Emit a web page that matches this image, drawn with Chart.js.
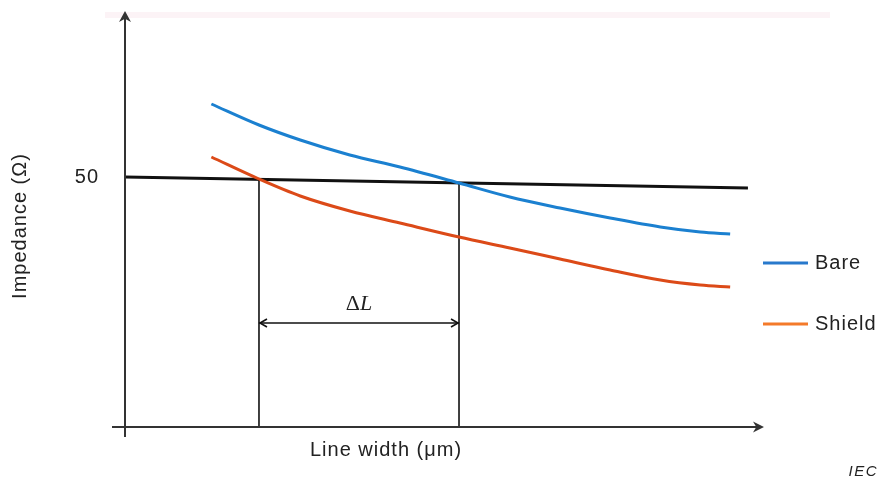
<!DOCTYPE html>
<html>
<head>
<meta charset="utf-8">
<script src="https://cdn.jsdelivr.net/npm/chart.js@4/dist/chart.umd.min.js"></script>
<style>
  html, body { margin: 0; padding: 0; background: #fff; }
  #wrap { width: 880px; height: 486px; position: relative; }
</style>
</head>
<body>
<div id="wrap"><canvas id="impedanceChart"></canvas></div>
<script>
/* globals Chart:false */

// line width (arbitrary units) and impedance (ohm)
const widths = [13.6, 21.1, 27.6, 35.4, 43.3, 52.6, 60.6, 68.5, 76.4, 84.3, 90.6, 95.3]
const bare = [64.6, 60.4, 57.4, 54.4, 52.0, 48.8, 46.0, 43.8, 41.8, 40.0, 39.0, 38.6]
const shield = [54.0, 49.6, 46.2, 43.2, 40.8, 38.0, 35.8, 33.6, 31.4, 29.4, 28.4, 28.0]

// 50 ohm target line
const targetX = [0, 98.1]
const targetZ = [50, 47.8]

// where each curve meets the target, and the height of the ΔL marker
const crossX = [21.1, 52.6]
const crossZ = [49.5, 48.8]
const deltaLevel = 20.8

const yTicks = [50]
const seriesNames = ['Bare', 'Shield']

;(() => {
  'use strict'

  const FONT = '"Liberation Sans", Arial, sans-serif'
  const toPoints = (xs, ys) => xs.map((x, i) => ({ x, y: ys[i] }))

  const arrowHead = (ctx, x, y, dir, len, half) => {
    // filled arrow with a small notch, pointing along dir (radians)
    ctx.save()
    ctx.translate(x, y)
    ctx.rotate(dir)
    ctx.beginPath()
    ctx.moveTo(0, 0)
    ctx.lineTo(-len, -half)
    ctx.lineTo(-len * 0.7, 0)
    ctx.lineTo(-len, half)
    ctx.closePath()
    ctx.fill()
    ctx.restore()
  }

  const chevron = (ctx, x, y, dir) => {
    ctx.save()
    ctx.translate(x, y)
    ctx.rotate(dir)
    ctx.beginPath()
    ctx.moveTo(-7, -4)
    ctx.lineTo(0, 0)
    ctx.lineTo(-7, 4)
    ctx.stroke()
    ctx.restore()
  }

  const decorations = {
    id: 'decorations',
    beforeDraw (chart) {
      const { ctx } = chart
      ctx.letterSpacing = '1px'
      ctx.save()
      ctx.fillStyle = '#fcf3f6'
      ctx.fillRect(105, 12, 725, 6)
      ctx.restore()
    },
    afterDraw (chart) {
      const { ctx, scales: { x, y } } = chart
      const x0 = x.getPixelForValue(0)
      const y0 = y.getPixelForValue(0)
      ctx.save()

      // axes with arrow heads
      ctx.strokeStyle = '#333'
      ctx.fillStyle = '#333'
      ctx.lineWidth = 2
      ctx.beginPath()
      ctx.moveTo(x0, y0 + 10)
      ctx.lineTo(x0, 18)
      ctx.moveTo(112, y0)
      ctx.lineTo(757, y0)
      ctx.stroke()
      arrowHead(ctx, x0, 11, -Math.PI / 2, 11, 6)
      arrowHead(ctx, 764, y0, 0, 11, 5.5)

      // ΔL double arrow heads
      const yd = y.getPixelForValue(deltaLevel)
      ctx.strokeStyle = '#111'
      ctx.lineWidth = 1.6
      chevron(ctx, x.getPixelForValue(crossX[0]) + 1, yd, Math.PI)
      chevron(ctx, x.getPixelForValue(crossX[1]) - 1, yd, 0)

      // ΔL label
      const midX = (x.getPixelForValue(crossX[0]) + x.getPixelForValue(crossX[1])) / 2
      ctx.letterSpacing = '0px'
      ctx.fillStyle = '#222'
      ctx.textBaseline = 'middle'
      ctx.font = '22px "Liberation Serif", "Times New Roman", serif'
      const wD = ctx.measureText('Δ').width
      ctx.font = 'italic 22px "Liberation Serif", "Times New Roman", serif'
      const wL = ctx.measureText('L').width
      const start = midX - (wD + wL) / 2
      ctx.textAlign = 'left'
      ctx.font = '22px "Liberation Serif", "Times New Roman", serif'
      ctx.fillText('Δ', start, yd - 19)
      ctx.font = 'italic 22px "Liberation Serif", "Times New Roman", serif'
      ctx.fillText('L', start + wD, yd - 19)

      // axis titles
      ctx.letterSpacing = '1px'
      ctx.font = '20px ' + FONT
      ctx.textAlign = 'center'
      ctx.fillText('Line width (μm)', 386, 450)
      ctx.save()
      ctx.translate(20, 226)
      ctx.rotate(-Math.PI / 2)
      ctx.fillText('Impedance (Ω)', 0, 0)
      ctx.restore()

      // legend
      const legendColors = ['#2879cc', '#f47a2a']
      const legendY = [263, 324]
      ctx.textAlign = 'left'
      ctx.lineWidth = 3
      seriesNames.forEach((name, i) => {
        ctx.strokeStyle = legendColors[i]
        ctx.beginPath()
        ctx.moveTo(763, legendY[i])
        ctx.lineTo(808, legendY[i])
        ctx.stroke()
        ctx.fillStyle = '#222'
        ctx.fillText(name, 815, legendY[i])
      })

      // source tag
      ctx.letterSpacing = '1.5px'
      ctx.font = 'italic 15px ' + FONT
      ctx.textAlign = 'right'
      ctx.fillText('IEC', 878, 472)
      ctx.restore()
    }
  }

  const ctx = document.getElementById('impedanceChart')
  // eslint-disable-next-line no-unused-vars
  const impedanceChart = new Chart(ctx, {
    type: 'line',
    data: {
      datasets: [
        {
          label: seriesNames[0],
          data: toPoints(widths, bare),
          borderColor: '#1b80d0',
          borderWidth: 3,
          cubicInterpolationMode: 'monotone'
        },
        {
          label: seriesNames[1],
          data: toPoints(widths, shield),
          borderColor: '#dc4a18',
          borderWidth: 3,
          cubicInterpolationMode: 'monotone'
        },
        {
          label: 'target',
          data: toPoints(targetX, targetZ),
          borderColor: '#111',
          borderWidth: 3.2
        },
        {
          label: 'cross-1',
          data: [{ x: crossX[0], y: 0 }, { x: crossX[0], y: crossZ[0] }],
          borderColor: '#111',
          borderWidth: 1.6
        },
        {
          label: 'cross-2',
          data: [{ x: crossX[1], y: 0 }, { x: crossX[1], y: crossZ[1] }],
          borderColor: '#111',
          borderWidth: 1.6
        },
        {
          label: 'delta',
          data: [{ x: crossX[0], y: deltaLevel }, { x: crossX[1], y: deltaLevel }],
          borderColor: '#111',
          borderWidth: 1.6
        }
      ]
    },
    options: {
      responsive: true,
      maintainAspectRatio: false,
      animation: false,
      layout: { padding: { top: 14, right: 120, left: 0, bottom: 0 } },
      elements: { point: { radius: 0 }, line: { fill: false } },
      scales: {
        x: {
          type: 'linear',
          min: 0,
          max: 100,
          grid: { display: false, drawTicks: false },
          border: { display: false },
          ticks: { display: false },
          afterFit (scale) {
            scale.height = 59
            scale.paddingLeft = 0
            scale.paddingRight = 0
          }
        },
        y: {
          type: 'linear',
          min: 0,
          max: 82.6,
          grid: { display: false, drawTicks: false },
          border: { display: false },
          afterBuildTicks (scale) { scale.ticks = yTicks.map(v => ({ value: v })) },
          ticks: {
            padding: 26,
            color: '#222',
            font: { family: FONT, size: 20 }
          },
          afterFit (scale) {
            scale.width = 125
            scale.paddingTop = 0
            scale.paddingBottom = 0
          }
        }
      },
      plugins: {
        legend: { display: false },
        tooltip: { enabled: false }
      }
    },
    plugins: [decorations]
  })
})()
</script>
</body>
</html>
